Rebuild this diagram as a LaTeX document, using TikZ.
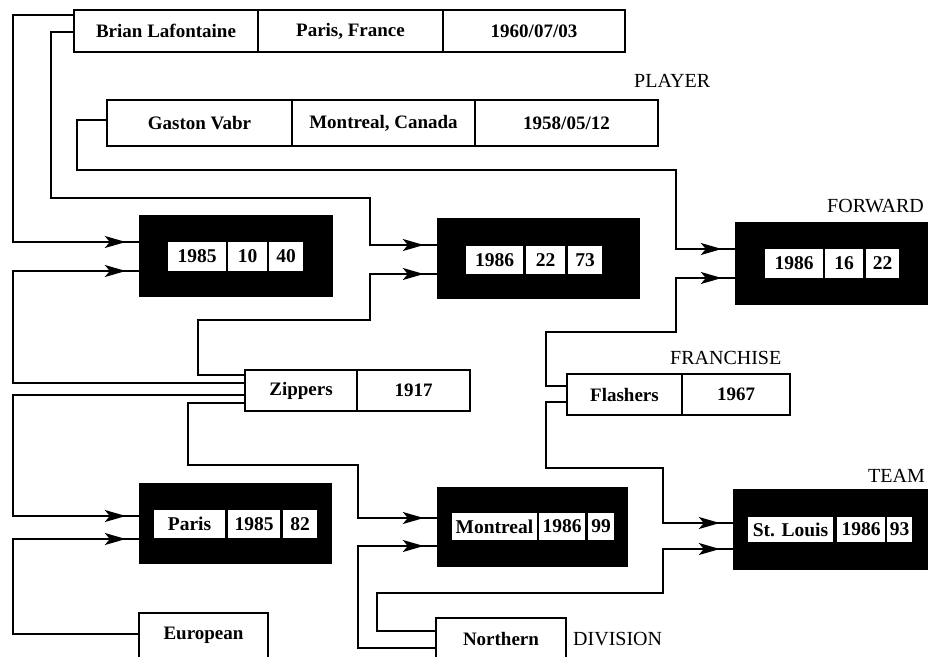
\documentclass[tikz,border=0pt]{standalone}
\usepackage{fontspec}
\setmainfont{Liberation Serif}
\usetikzlibrary{arrows.meta,decorations.markings}
\begin{document}
\begin{tikzpicture}[x=1pt,y=-1pt,
  field/.style={draw, line width=1.8pt, fill=white, inner sep=0pt, font=\fontsize{19}{22}\selectfont\bfseries},
  blk/.style={fill=black, inner sep=0pt},
  cell/.style={fill=white, inner sep=0pt, font=\fontsize{19.5}{22}\selectfont\bfseries},
  lbl/.style={anchor=base west, inner sep=0pt, font=\fontsize{20}{24}\selectfont},
  conn/.style={draw, line width=1.5pt},
  arr/.style={conn, postaction={decorate}, decoration={markings, mark=at position -13pt with {\arrow{Stealth[length=21pt,width=12pt,inset=5pt]}}}}
]
\useasboundingbox (0,0) rectangle (933,656);

% PLAYER records
\node[field, minimum width=184, minimum height=42] (br1) at (166,31) {Brian Lafontaine};
\node[field, minimum width=185, minimum height=42] (br2) at (350.5,31) {Paris, France};
\node[field, minimum width=182, minimum height=42] (br3) at (534,31) {1960/07/03};
\node[field, minimum width=185, minimum height=46] (ga1) at (199.5,123) {Gaston Vabr};
\node[field, minimum width=183, minimum height=46] (ga2) at (383.5,123) {Montreal, Canada};
\node[field, minimum width=183, minimum height=46] (ga3) at (566.5,123) {1958/05/12};
\node[lbl] (lplayer) at (634,87) {PLAYER};

% FORWARD records
\node[blk, minimum width=194, minimum height=82] (fw1) at (236,256) {};
\node[cell, minimum width=58, minimum height=29] (fw1a) at (197,256.5) {1985};
\node[cell, minimum width=39, minimum height=29] (fw1b) at (247.5,256.5) {10};
\node[cell, minimum width=34, minimum height=29] (fw1c) at (286,256.5) {40};

\node[blk, minimum width=203, minimum height=81] (fw2) at (538.5,258.5) {};
\node[cell, minimum width=57, minimum height=28] (fw2a) at (494.5,260) {1986};
\node[cell, minimum width=39, minimum height=28] (fw2b) at (545.5,260) {22};
\node[cell, minimum width=34, minimum height=28] (fw2c) at (585,260) {73};

\node[blk, minimum width=193, minimum height=83] (fw3) at (831.5,263.5) {};
\node[cell, minimum width=58, minimum height=29] (fw3a) at (794,263.5) {1986};
\node[cell, minimum width=38, minimum height=29] (fw3b) at (844,263.5) {16};
\node[cell, minimum width=33, minimum height=29] (fw3c) at (882.5,263.5) {22};
\node[lbl] (lforward) at (827,212) {FORWARD};

% FRANCHISE records
\node[field, minimum width=112, minimum height=41] (zi1) at (301,390.5) {Zippers};
\node[field, minimum width=113, minimum height=41] (zi2) at (413.5,390.5) {1917};
\node[field, minimum width=115, minimum height=41] (fl1) at (624.5,394.5) {Flashers};
\node[field, minimum width=108, minimum height=41] (fl2) at (736,394.5) {1967};
\node[lbl] (lfranchise) at (670,364) {FRANCHISE};

% TEAM records
\node[blk, minimum width=193, minimum height=81] (tm1) at (235.5,523.5) {};
\node[cell, minimum width=71, minimum height=28] (tm1a) at (189.5,524) {Paris};
\node[cell, minimum width=52, minimum height=28] (tm1b) at (254,524) {1985};
\node[cell, minimum width=34, minimum height=28] (tm1c) at (300,524) {82};

\node[blk, minimum width=191, minimum height=80] (tm2) at (532.5,527) {};
\node[cell, minimum width=85, minimum height=27] (tm2a) at (494.5,526.5) {Montreal};
\node[cell, minimum width=46, minimum height=27] (tm2b) at (562,526.5) {1986};
\node[cell, minimum width=26, minimum height=27] (tm2c) at (601,526.5) {99};

\node[blk, minimum width=195, minimum height=81] (tm3) at (830.5,529.5) {};
\node[cell, minimum width=85, minimum height=25] (tm3a) at (790.5,529.5) {St. Louis};
\node[cell, minimum width=48, minimum height=25] (tm3b) at (861,529.5) {1986};
\node[cell, minimum width=25, minimum height=25] (tm3c) at (899.5,529.5) {93};
\node[lbl] (lteam) at (868,482) {TEAM};

% DIVISION records
\node[field, minimum width=129, minimum height=47, text height=13, text depth=8] (eu) at (203.5,636.5) {European};
\node[field, minimum width=130, minimum height=42, text height=13, text depth=1] (no) at (501,639) {Northern};
\node[lbl] (ldivision) at (573,645) {DIVISION};

% connectors
\draw[arr] (br1.west |- 0,15) -- (13,15) -- (13,242) -- (fw1.west |- 0,242);
\draw[arr] (br1.west |- 0,32) -- (51,32) -- (51,198) -- (370,198) -- (370,245) -- (fw2.west |- 0,245);
\draw[arr] (ga1.west |- 0,120) -- (77,120) -- (77,170) -- (676,170) -- (676,249) -- (fw3.west |- 0,249);

\draw[arr] (zi1.west |- 0,383) -- (13,383) -- (13,271) -- (fw1.west |- 0,271);
\draw[arr] (zi1.west |- 0,375) -- (198,375) -- (198,320) -- (370,320) -- (370,274) -- (fw2.west |- 0,274);
\draw[arr] (fl1.west |- 0,386) -- (546,386) -- (546,332) -- (676,332) -- (676,278) -- (fw3.west |- 0,278);

\draw[arr] (zi1.west |- 0,395) -- (13,395) -- (13,516) -- (tm1.west |- 0,516);
\draw[arr] (eu.west |- 0,634) -- (13,634) -- (13,539) -- (tm1.west |- 0,539);
\draw[arr] (zi1.west |- 0,403) -- (188,403) -- (188,465) -- (358,465) -- (358,518) -- (tm2.west |- 0,518);
\draw[arr] (no.west |- 0,648) -- (358,648) -- (358,546) -- (tm2.west |- 0,546);
\draw[arr] (fl1.west |- 0,402) -- (546,402) -- (546,468) -- (663,468) -- (663,523) -- (tm3.west |- 0,523);
\draw[arr] (no.west |- 0,631) -- (377,631) -- (377,593) -- (663,593) -- (663,549) -- (tm3.west |- 0,549);
\end{tikzpicture}
\end{document}
